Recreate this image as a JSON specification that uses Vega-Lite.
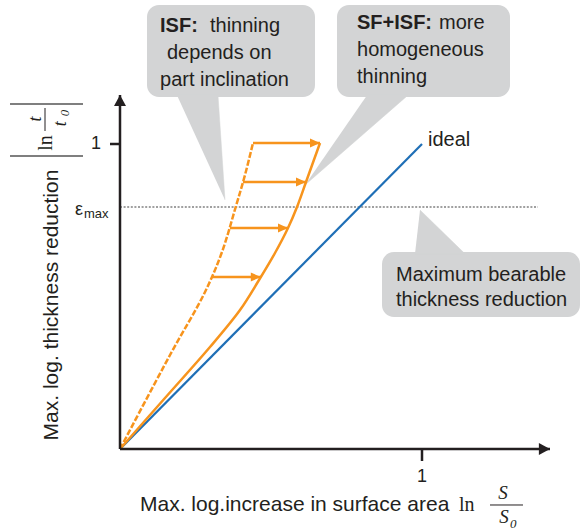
{
  "$schema": "https://vega.github.io/schema/vega-lite/v6.json",
  "width": 581,
  "height": 531,
  "autosize": "none",
  "padding": 0,
  "background": "white",
  "config": {"view": {"stroke": null}},
  "datasets": {
    "boxes": [
      {"x": 0.0894, "x2": 0.6457, "y": 1.1541, "y2": 1.4557},
      {"x": 0.7185, "x2": 1.2914, "y": 1.1541, "y2": 1.4557},
      {"x": 0.8675, "x2": 1.5232, "y": 0.4328, "y2": 0.6459}
    ],
    "pointers": [
      {"g": "a", "i": 1, "x": 0.1887, "y": 1.16},
      {"g": "a", "i": 2, "x": 0.3245, "y": 1.16},
      {"g": "a", "i": 3, "x": 0.3477, "y": 0.8164},
      {"g": "b", "i": 1, "x": 0.8179, "y": 1.16},
      {"g": "b", "i": 2, "x": 0.9536, "y": 1.16},
      {"g": "b", "i": 3, "x": 0.6126, "y": 0.8656},
      {"g": "c", "i": 1, "x": 0.9768, "y": 0.64},
      {"g": "c", "i": 2, "x": 1.1424, "y": 0.64},
      {"g": "c", "i": 3, "x": 0.9934, "y": 0.7836}
    ],
    "ideal": [{"x": 0, "y": 0}, {"x": 1, "y": 1}],
    "isf": [
      {"x": 0, "y": 0}, {"x": 0.1656, "y": 0.3082}, {"x": 0.2815, "y": 0.5148},
      {"x": 0.3377, "y": 0.6459}, {"x": 0.3841, "y": 0.7967}, {"x": 0.4139, "y": 0.8984},
      {"x": 0.4404, "y": 1.0033}
    ],
    "sfisf": [
      {"x": 0, "y": 0}, {"x": 0.149, "y": 0.1672}, {"x": 0.298, "y": 0.3344},
      {"x": 0.3974, "y": 0.4557}, {"x": 0.4603, "y": 0.5541}, {"x": 0.5132, "y": 0.6426},
      {"x": 0.5563, "y": 0.7246}, {"x": 0.5861, "y": 0.7934}, {"x": 0.6159, "y": 0.8754},
      {"x": 0.6623, "y": 1.0033}
    ],
    "arrows": [
      {"x": 0.4404, "x2": 0.6623, "y": 1.0033},
      {"x": 0.407, "x2": 0.6159, "y": 0.8754},
      {"x": 0.364, "x2": 0.5563, "y": 0.7246},
      {"x": 0.305, "x2": 0.4662, "y": 0.5639}
    ],
    "emax": [{"x": 0, "x2": 1.384, "y": 0.7934}],
    "yaxis": [{"x": 0, "y": 0, "y2": 1.1607}],
    "xaxis": [{"x": 0, "x2": 1.4238, "y": 0}],
    "ytick": [{"x": -0.0331, "x2": 0, "y": 1.0}],
    "xtick": [{"x": 1.0, "y": 0, "y2": -0.0393}],
    "boxText": [
      {"x": 0.298, "y": 1.3672, "text": "thinning"},
      {"x": 0.1556, "y": 1.2787, "text": "depends on"},
      {"x": 0.1325, "y": 1.1902, "text": "part inclination"},
      {"x": 1.0563, "y": 1.377, "text": "more"},
      {"x": 0.7848, "y": 1.2885, "text": "homogeneous"},
      {"x": 0.7848, "y": 1.2, "text": "thinning"},
      {"x": 0.9139, "y": 0.5508, "text": "Maximum bearable"},
      {"x": 0.9139, "y": 0.4689, "text": "thickness reduction"},
      {"x": 1.0199, "y": 0.9934, "text": "ideal"}
    ],
    "boldText": [
      {"x": 0.1325, "y": 1.3672, "text": "ISF:"},
      {"x": 0.7848, "y": 1.377, "text": "SF+ISF:"}
    ],
    "xTitle": [{"x": 0.0662, "y": -0.2033, "text": "Max. log.increase in surface area"}],
    "yTitle": [{"x": -0.2252, "y": 0.4721, "text": "Max. log. thickness reduction"}],
    "tickY": [{"x": -0.063, "y": 1.0, "text": "1"}],
    "tickX": [{"x": 1.0, "y": -0.1082, "text": "1"}],
    "eps": [{"x": -0.149, "y": 0.7672, "text": "ε"}],
    "epsSub": [{"x": -0.1192, "y": 0.7574, "text": "max"}],
    "lnX": [{"x": 1.1225, "y": -0.2033, "text": "ln"}],
    "fracX": [{"x": 1.2252, "x2": 1.3344, "y": -0.1836}],
    "sNum": [{"x": 1.2682, "y": -0.1639, "text": "S"}],
    "sDen": [{"x": 1.2715, "y": -0.2426, "text": "S"}],
    "sSub": [{"x": 1.2914, "y": -0.259, "text": "0"}],
    "absBars": [
      {"x": -0.3642, "x2": -0.1225, "y": 1.1311},
      {"x": -0.3642, "x2": -0.1225, "y": 0.9607}
    ],
    "lnY": [{"x": -0.245, "y": 1.0033, "text": "ln"}],
    "fracY": [{"x": -0.2483, "y": 1.118, "y2": 1.0426}],
    "tNum": [{"x": -0.2781, "y": 1.082, "text": "t"}],
    "tDen": [{"x": -0.1954, "y": 1.066, "text": "t"}],
    "tSub": [{"x": -0.1821, "y": 1.1016, "text": "0"}]
  },
  "encoding": {
    "x": {"field": "x", "type": "quantitative", "axis": null,
          "scale": {"domain": [-0.39735, 1.52649], "nice": false, "zero": false}},
    "y": {"field": "y", "type": "quantitative", "axis": null,
          "scale": {"domain": [-0.26885, 1.47213], "nice": false, "zero": false}}
  },
  "layer": [
    {"data": {"name": "boxes"}, "mark": {"type": "rect", "fill": "#d3d4d5", "cornerRadius": 12},
     "encoding": {"x2": {"field": "x2"}, "y2": {"field": "y2"}}},
    {"data": {"name": "pointers"}, "mark": {"type": "line", "fill": "#d3d4d5", "stroke": "#d3d4d5", "strokeWidth": 0.5},
     "encoding": {"order": {"field": "i"}, "detail": {"field": "g"}}},
    {"data": {"name": "emax"}, "mark": {"type": "rule", "stroke": "#a0a0a0", "strokeWidth": 2.2, "strokeDash": [2, 1.6]},
     "encoding": {"x2": {"field": "x2"}}},
    {"data": {"name": "ideal"}, "mark": {"type": "line", "stroke": "#1f6fb6", "strokeWidth": 2.2}, "encoding": {}},
    {"data": {"name": "isf"}, "mark": {"type": "line", "stroke": "#f7941d", "strokeWidth": 2.5, "strokeDash": [6, 2], "interpolate": "catmull-rom"}, "encoding": {}},
    {"data": {"name": "sfisf"}, "mark": {"type": "line", "stroke": "#f7941d", "strokeWidth": 2.5, "interpolate": "catmull-rom"}, "encoding": {}},
    {"data": {"name": "arrows"}, "mark": {"type": "rule", "stroke": "#f7941d", "strokeWidth": 2.5},
     "encoding": {"x2": {"field": "x2"}}},
    {"data": {"name": "arrows"}, "mark": {"type": "point", "shape": "M0,0L-2,-0.9L-2,0.9Z", "filled": true, "fill": "#f7941d", "opacity": 1, "size": 100, "strokeWidth": 0},
     "encoding": {"x": {"field": "x2", "type": "quantitative"}}},
    {"data": {"name": "yaxis"}, "mark": {"type": "rule", "stroke": "#231f20", "strokeWidth": 2.5},
     "encoding": {"y2": {"field": "y2"}}},
    {"data": {"name": "yaxis"}, "mark": {"type": "point", "shape": "M0,0L-1,1.85L1,1.85Z", "filled": true, "fill": "#231f20", "opacity": 1, "size": 144, "strokeWidth": 0},
     "encoding": {"y": {"field": "y2", "type": "quantitative"}}},
    {"data": {"name": "xaxis"}, "mark": {"type": "rule", "stroke": "#231f20", "strokeWidth": 2.5},
     "encoding": {"x2": {"field": "x2"}}},
    {"data": {"name": "xaxis"}, "mark": {"type": "point", "shape": "M0,0L-1.85,-1L-1.85,1Z", "filled": true, "fill": "#231f20", "opacity": 1, "size": 144, "strokeWidth": 0},
     "encoding": {"x": {"field": "x2", "type": "quantitative"}}},
    {"data": {"name": "ytick"}, "mark": {"type": "rule", "stroke": "#231f20", "strokeWidth": 2.5},
     "encoding": {"x2": {"field": "x2"}}},
    {"data": {"name": "xtick"}, "mark": {"type": "rule", "stroke": "#231f20", "strokeWidth": 2.5},
     "encoding": {"y2": {"field": "y2"}}},
    {"data": {"name": "boxText"}, "mark": {"type": "text", "align": "left", "baseline": "alphabetic", "font": "Liberation Sans", "fontSize": 20, "fill": "#231f20"},
     "encoding": {"text": {"field": "text"}}},
    {"data": {"name": "boldText"}, "mark": {"type": "text", "align": "left", "baseline": "alphabetic", "font": "Liberation Sans", "fontSize": 20, "fontWeight": "bold", "fill": "#231f20"},
     "encoding": {"text": {"field": "text"}}},
    {"data": {"name": "xTitle"}, "mark": {"type": "text", "align": "left", "baseline": "alphabetic", "font": "Liberation Sans", "fontSize": 21, "fill": "#231f20"},
     "encoding": {"text": {"field": "text"}}},
    {"data": {"name": "yTitle"}, "mark": {"type": "text", "align": "center", "baseline": "middle", "angle": 270, "font": "Liberation Sans", "fontSize": 21, "fill": "#231f20"},
     "encoding": {"text": {"field": "text"}}},
    {"data": {"name": "tickY"}, "mark": {"type": "text", "align": "right", "baseline": "middle", "font": "Liberation Sans", "fontSize": 18, "fill": "#231f20"},
     "encoding": {"text": {"field": "text"}}},
    {"data": {"name": "tickX"}, "mark": {"type": "text", "align": "center", "baseline": "alphabetic", "font": "Liberation Sans", "fontSize": 18, "fill": "#231f20"},
     "encoding": {"text": {"field": "text"}}},
    {"data": {"name": "eps"}, "mark": {"type": "text", "align": "left", "baseline": "alphabetic", "font": "Liberation Sans", "fontSize": 18, "fill": "#231f20"},
     "encoding": {"text": {"field": "text"}}},
    {"data": {"name": "epsSub"}, "mark": {"type": "text", "align": "left", "baseline": "alphabetic", "font": "Liberation Sans", "fontSize": 13, "fill": "#231f20"},
     "encoding": {"text": {"field": "text"}}},
    {"data": {"name": "lnX"}, "mark": {"type": "text", "align": "left", "baseline": "alphabetic", "font": "Liberation Serif", "fontSize": 20, "fill": "#231f20"},
     "encoding": {"text": {"field": "text"}}},
    {"data": {"name": "fracX"}, "mark": {"type": "rule", "stroke": "#231f20", "strokeWidth": 1},
     "encoding": {"x2": {"field": "x2"}}},
    {"data": {"name": "sNum"}, "mark": {"type": "text", "align": "center", "baseline": "alphabetic", "font": "Liberation Serif", "fontStyle": "italic", "fontSize": 19, "fill": "#231f20"},
     "encoding": {"text": {"field": "text"}}},
    {"data": {"name": "sDen"}, "mark": {"type": "text", "align": "center", "baseline": "alphabetic", "font": "Liberation Serif", "fontStyle": "italic", "fontSize": 19, "fill": "#231f20"},
     "encoding": {"text": {"field": "text"}}},
    {"data": {"name": "sSub"}, "mark": {"type": "text", "align": "left", "baseline": "alphabetic", "font": "Liberation Serif", "fontStyle": "italic", "fontSize": 13, "fill": "#231f20"},
     "encoding": {"text": {"field": "text"}}},
    {"data": {"name": "absBars"}, "mark": {"type": "rule", "stroke": "#555555", "strokeWidth": 1.3},
     "encoding": {"x2": {"field": "x2"}}},
    {"data": {"name": "lnY"}, "mark": {"type": "text", "align": "center", "baseline": "middle", "angle": 270, "font": "Liberation Serif", "fontSize": 20, "fill": "#231f20"},
     "encoding": {"text": {"field": "text"}}},
    {"data": {"name": "fracY"}, "mark": {"type": "rule", "stroke": "#231f20", "strokeWidth": 1},
     "encoding": {"y2": {"field": "y2"}}},
    {"data": {"name": "tNum"}, "mark": {"type": "text", "align": "center", "baseline": "middle", "angle": 270, "font": "Liberation Serif", "fontStyle": "italic", "fontSize": 18, "fill": "#231f20"},
     "encoding": {"text": {"field": "text"}}},
    {"data": {"name": "tDen"}, "mark": {"type": "text", "align": "center", "baseline": "middle", "angle": 270, "font": "Liberation Serif", "fontStyle": "italic", "fontSize": 18, "fill": "#231f20"},
     "encoding": {"text": {"field": "text"}}},
    {"data": {"name": "tSub"}, "mark": {"type": "text", "align": "center", "baseline": "middle", "angle": 270, "font": "Liberation Serif", "fontStyle": "italic", "fontSize": 13, "fill": "#231f20"},
     "encoding": {"text": {"field": "text"}}}
  ]
}
